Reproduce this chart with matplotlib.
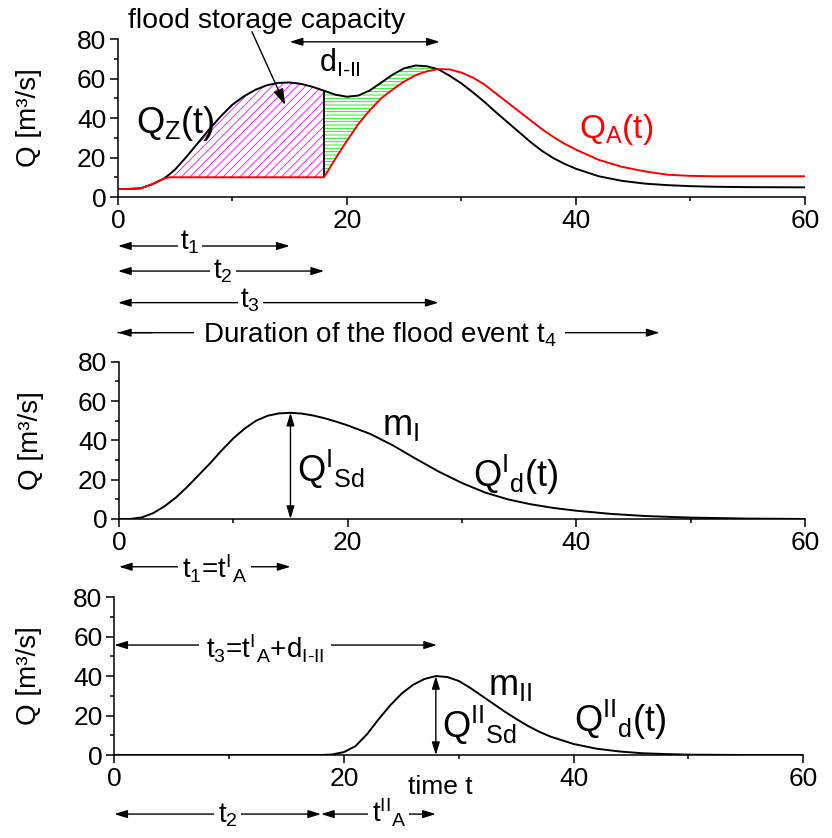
import numpy as np
import matplotlib
matplotlib.use('Agg')
import matplotlib.pyplot as plt

plt.rcParams['font.family'] = ['Liberation Sans', 'DejaVu Sans']
plt.rcParams['mathtext.fontset'] = 'custom'
plt.rcParams['mathtext.rm'] = 'Liberation Sans'
plt.rcParams['mathtext.it'] = 'Liberation Sans'
plt.rcParams['mathtext.bf'] = 'Liberation Sans:bold'
plt.rcParams['mathtext.default'] = 'regular'
plt.rcParams['hatch.linewidth'] = 0.6

# top panel: inflow Q_Z(t) and outflow Q_A(t) on a shared time grid
T_TOP = [0, 1, 2, 3, 4, 4.5, 5, 6, 7, 8, 9, 10, 11, 12, 13, 14, 15, 16, 17, 18,
         19, 20, 21, 22, 23, 24, 25, 26, 27, 28, 29, 30, 31, 32, 33, 34, 35, 36,
         37, 38, 39, 40, 42, 44, 46, 48, 50, 52, 55, 60]
QZ = [4, 4.1, 4.4, 6.5, 9.3, 11.5, 14, 20.5, 27.5, 34.5, 41, 46.8, 51, 54.3,
      56.6, 57.8, 58, 57.3, 55.8, 53.8, 51.8, 50.8, 51.4, 54, 58, 62, 65.2,
      66.6, 66.2, 64.6, 61.3, 57.5, 53, 48.2, 43, 38, 33, 28, 23.5, 19.8, 16.8,
      14.3, 10.5, 8.2, 6.8, 6, 5.5, 5.2, 5, 4.9]
QA = [4, 4.1, 4.4, 6.5, 9.3, 10, 10, 10, 10, 10, 10, 10, 10, 10, 10, 10, 10,
      10, 10, 10, 19.5, 28.5, 37, 44, 50, 54.5, 58.5, 61.7, 63.7, 64.8, 64.6,
      63, 60.5, 57, 52.5, 48, 43.5, 39, 34.5, 30.5, 27, 24, 18.8, 15.3, 13,
      11.3, 10.7, 10.5, 10.5, 10.5]

# middle panel: first partial wave
T_I = [0, 1, 2, 3, 4, 5, 6, 7, 8, 9, 10, 11, 12, 13, 14, 15, 16, 17, 18, 19, 20,
       22, 24, 26, 28, 30, 32, 34, 36, 38, 40, 43, 46, 50, 55, 60]
Q_I = [0, 0, 0.8, 3, 6.5, 11, 16.5, 22.5, 28.5, 35, 41, 46, 50, 52.5, 53.7, 54,
       53.6, 52.6, 51.2, 49.5, 47.6, 43.2, 37.3, 30.5, 24, 18.3, 13.5, 10, 7.5,
       5.6, 4.2, 2.6, 1.5, 0.7, 0.2, 0]

# bottom panel: second partial wave
T_II = [0, 18, 19, 20, 21, 22, 23, 24, 25, 26, 27, 28, 29, 30, 31, 32, 33, 34,
        35, 36, 37, 38, 40, 42, 44, 46, 48, 50, 55, 60]
Q_II = [0, 0, 0.3, 1.5, 4.5, 10.5, 18, 25, 31, 35.5, 38.5, 40, 39.5, 37.5, 34,
        30, 26, 22, 18.3, 14.8, 11.8, 9.3, 5.6, 3.2, 1.8, 0.9, 0.5, 0.2, 0, 0]

# characteristic times
T1, T2, T3, T4 = 15, 18, 28, 47.3
PEAK_I, PEAK_II = 54, 40

XTICKS = [0, 20, 40, 60]
YTICKS = [0, 20, 40, 60, 80]

HY = '\u2010'  # plain hyphen inside subscripts

AX_KW = dict(lw=1.0, color='k', shrinkA=0, shrinkB=0, mutation_scale=14)
DSTYLE = '<|-|>,head_length=0.55,head_width=0.17'
SSTYLE = '-|>,head_length=0.55,head_width=0.17'


def darrow(ax, x0, y0, x1, y1, style=DSTYLE):
    ax.annotate('', xy=(x1, y1), xytext=(x0, y0), annotation_clip=False,
                arrowprops=dict(arrowstyle=style, **AX_KW))


def label(ax, x, y, s, size=20, pad=1.5, **kw):
    ax.text(x, y, s, fontsize=size, ha='left', va='baseline',
            bbox=dict(fc='white', ec='none', pad=pad), **kw)


def style_axes(ax, lab_x):
    ax.set_xlim(0, 60)
    ax.set_ylim(0, 80)
    ax.set_xticks(XTICKS)
    ax.set_yticks(YTICKS)
    ax.set_xticks([10, 30, 50], minor=True)
    ax.set_yticks([10, 30, 50, 70], minor=True)
    for s in ('top', 'right'):
        ax.spines[s].set_visible(False)
    for s in ('left', 'bottom'):
        ax.spines[s].set_linewidth(1.1)
    ax.tick_params(which='major', direction='out', length=5.5, width=1.1,
                   labelsize=19, pad=3)
    ax.tick_params(which='minor', direction='out', length=3, width=1.1)
    ax.set_ylabel('Q [m³/s]', fontsize=20)
    ax.yaxis.set_label_coords(lab_x, 0.5)


fig = plt.figure(figsize=(8.32, 8.38), dpi=100)
ax1 = fig.add_axes([0.1418, 0.7649, 0.8257, 0.1885])
ax2 = fig.add_axes([0.1430, 0.3807, 0.8245, 0.1877])
ax3 = fig.add_axes([0.1374, 0.0990, 0.8281, 0.1885])

# ---- top panel
t = np.array(T_TOP)
qz = np.array(QZ)
qa = np.array(QA)
ax1.fill_between(t, qa, qz, where=(t <= T2), facecolor='none',
                 edgecolor='#ff00ff', hatch='////', linewidth=0)
ax1.fill_between(t, qa, qz, where=(t >= T2) & (qz >= qa), interpolate=True,
                 facecolor='none', edgecolor='#00ee00', hatch='-----',
                 linewidth=0)
i18 = T_TOP.index(T2)
ax1.vlines(T2, QA[i18], QZ[i18], color='k', lw=1.3)
ax1.plot(T_TOP, QZ, color='k', lw=1.4)
ax1.plot(T_TOP, QA, color='#ff0000', lw=1.4)
style_axes(ax1, -0.11)

ax1.text(0.9, 85.4, 'flood storage capacity', fontsize=20.5, ha='left',
         va='baseline')
ax1.annotate('', xy=(14.6, 46.6), xytext=(11.7, 83.7), annotation_clip=False,
             arrowprops=dict(arrowstyle='-|>,head_length=0.7,head_width=0.22',
                             **AX_KW))
darrow(ax1, 15, 78.6, T3 + 0.1, 78.6)
ax1.text(17.6, 63.4, 'd$_{I' + HY + 'II}$', fontsize=22, ha='left',
         va='baseline')
ax1.text(1.6, 32.4, 'Q$_Z$(t)', fontsize=26, ha='left', va='baseline')
ax1.text(40.3, 29.7, 'Q$_A$(t)', fontsize=24, ha='left', va='baseline',
         color='#ff0000')

# time spans below the top panel
darrow(ax1, 0, -24.8, T1, -24.8)
label(ax1, 5.4, -26.8, 't$_1$', pad=1.5)
darrow(ax1, 0, -37.5, T2, -37.5)
label(ax1, 8.3, -41.5, 't$_2$', pad=2)
darrow(ax1, 0, -53.5, T3, -53.5)
label(ax1, 10.7, -56.2, 't$_3$', pad=2)
darrow(ax1, 0, -68.7, T4, -68.7, style=SSTYLE)
darrow(ax1, 3, -68.7, 0, -68.7, style=SSTYLE)
label(ax1, 7.4, -73.9, 'Duration of the flood event t$_4$', pad=6)

# ---- middle panel
ax2.plot(T_I, Q_I, color='k', lw=1.4)
style_axes(ax2, -0.11)
darrow(ax2, T1, 0, T1, PEAK_I)
ax2.text(23.0, 42.7, 'm$_I$', fontsize=26, ha='left', va='baseline')
ax2.text(15.55, 19, 'Q$^I{}_{Sd}$', fontsize=26, ha='left', va='baseline')
ax2.text(31.0, 16.4, 'Q$^I{}_d$(t)', fontsize=26, ha='left', va='baseline')
darrow(ax2, 0, -24.3, T1, -24.3)
label(ax2, 5.5, -30.5, 't$_1$=t$^I{}_A$', pad=3)

# ---- bottom panel
ax3.plot(T_II, Q_II, color='k', lw=1.4)
style_axes(ax3, -0.105)
darrow(ax3, T3, 0, T3, PEAK_II)
ax3.text(32.5, 30.4, 'm$_{II}$', fontsize=26, ha='left', va='baseline')
ax3.text(28.5, 8.5, 'Q$^{II}{}_{Sd}$', fontsize=26, ha='left', va='baseline')
ax3.text(40.0, 11.8, 'Q$^{II}{}_d$(t)', fontsize=26, ha='left', va='baseline')
darrow(ax3, 0, 55.7, T3 + 0.1, 55.7)
label(ax3, 8.0, 49.1, 't$_3$=t$^I{}_A$+d$_{I' + HY + 'II}$', pad=5)
ax3.text(28.4, -16, 'time t', fontsize=19, ha='center', va='center')
darrow(ax3, 0, -29.9, T2, -29.9)
label(ax3, 9.0, -34.4, 't$_2$', pad=2.5)
darrow(ax3, T2, -29.9, T3, -29.9)
label(ax3, 22.4, -34.4, 't$^{II}{}_A$', pad=2.5)

fig.savefig('out.png', dpi=100, facecolor='white')
plt.close(fig)
